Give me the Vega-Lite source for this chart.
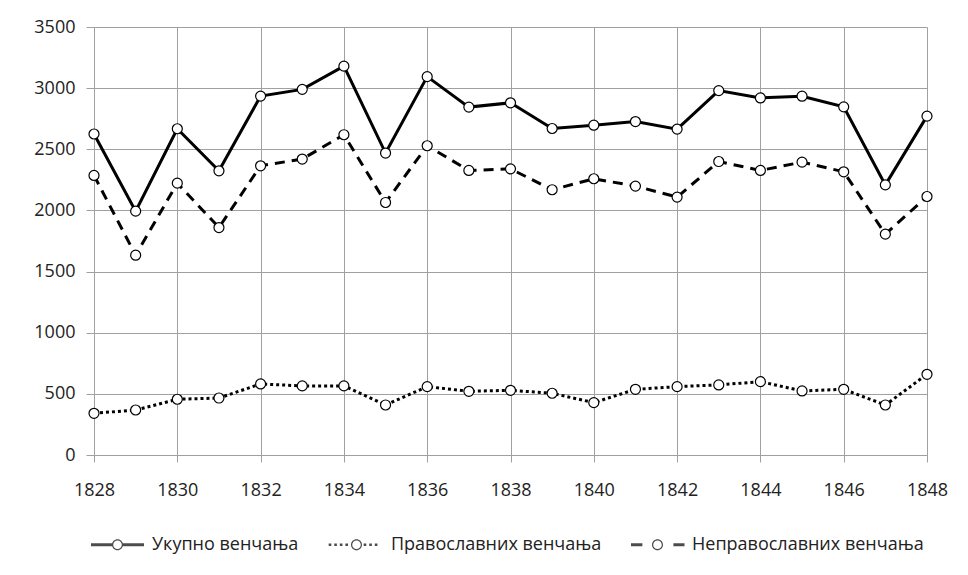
{
  "$schema": "https://vega.github.io/schema/vega-lite/v6.json",
  "autosize": "none",
  "width": 833,
  "height": 428,
  "padding": {"left": 94, "top": 27, "right": 41, "bottom": 120},
  "background": "white",
  "config": {
    "font": "Open Sans",
    "view": {"stroke": null},
    "axis": {"labelFont": "Open Sans", "labelFontSize": 18, "labelColor": "#222", "gridColor": "#a0a0a0", "gridWidth": 1, "tickColor": "#a0a0a0", "domainColor": "#a0a0a0"}
  },
  "data": {
    "values": [
      {"year": 1828, "series": "Укупно венчања", "value": 2625},
      {"year": 1829, "series": "Укупно венчања", "value": 1994},
      {"year": 1830, "series": "Укупно венчања", "value": 2668},
      {"year": 1831, "series": "Укупно венчања", "value": 2324},
      {"year": 1832, "series": "Укупно венчања", "value": 2935},
      {"year": 1833, "series": "Укупно венчања", "value": 2990},
      {"year": 1834, "series": "Укупно венчања", "value": 3180},
      {"year": 1835, "series": "Укупно венчања", "value": 2469},
      {"year": 1836, "series": "Укупно венчања", "value": 3094},
      {"year": 1837, "series": "Укупно венчања", "value": 2845},
      {"year": 1838, "series": "Укупно венчања", "value": 2880},
      {"year": 1839, "series": "Укупно венчања", "value": 2670},
      {"year": 1840, "series": "Укупно венчања", "value": 2697},
      {"year": 1841, "series": "Укупно венчања", "value": 2727},
      {"year": 1842, "series": "Укупно венчања", "value": 2665},
      {"year": 1843, "series": "Укупно венчања", "value": 2980},
      {"year": 1844, "series": "Укупно венчања", "value": 2920},
      {"year": 1845, "series": "Укупно венчања", "value": 2934},
      {"year": 1846, "series": "Укупно венчања", "value": 2847},
      {"year": 1847, "series": "Укупно венчања", "value": 2209},
      {"year": 1848, "series": "Укупно венчања", "value": 2771},
      {"year": 1828, "series": "Православних венчања", "value": 341},
      {"year": 1829, "series": "Православних венчања", "value": 368},
      {"year": 1830, "series": "Православних венчања", "value": 456},
      {"year": 1831, "series": "Православних венчања", "value": 466},
      {"year": 1832, "series": "Православних венчања", "value": 581},
      {"year": 1833, "series": "Православних венчања", "value": 565},
      {"year": 1834, "series": "Православних венчања", "value": 565},
      {"year": 1835, "series": "Православних венчања", "value": 409},
      {"year": 1836, "series": "Православних венчања", "value": 559},
      {"year": 1837, "series": "Православних венчања", "value": 521},
      {"year": 1838, "series": "Православних венчања", "value": 529},
      {"year": 1839, "series": "Православних венчања", "value": 505},
      {"year": 1840, "series": "Православних венчања", "value": 428},
      {"year": 1841, "series": "Православних венчања", "value": 537},
      {"year": 1842, "series": "Православних венчања", "value": 559},
      {"year": 1843, "series": "Православних венчања", "value": 573},
      {"year": 1844, "series": "Православних венчања", "value": 600},
      {"year": 1845, "series": "Православних венчања", "value": 524},
      {"year": 1846, "series": "Православних венчања", "value": 537},
      {"year": 1847, "series": "Православних венчања", "value": 409},
      {"year": 1848, "series": "Православних венчања", "value": 660},
      {"year": 1828, "series": "Неправославних венчања", "value": 2286},
      {"year": 1829, "series": "Неправославних венчања", "value": 1634},
      {"year": 1830, "series": "Неправославних венчања", "value": 2223},
      {"year": 1831, "series": "Неправославних венчања", "value": 1860},
      {"year": 1832, "series": "Неправославних венчања", "value": 2365},
      {"year": 1833, "series": "Неправославних венчања", "value": 2420},
      {"year": 1834, "series": "Неправославних венчања", "value": 2619},
      {"year": 1835, "series": "Неправославних венчања", "value": 2065},
      {"year": 1836, "series": "Неправославних венчања", "value": 2529},
      {"year": 1837, "series": "Неправославних венчања", "value": 2327},
      {"year": 1838, "series": "Неправославних венчања", "value": 2340},
      {"year": 1839, "series": "Неправославних венчања", "value": 2169},
      {"year": 1840, "series": "Неправославних венчања", "value": 2259},
      {"year": 1841, "series": "Неправославних венчања", "value": 2199},
      {"year": 1842, "series": "Неправославних венчања", "value": 2109},
      {"year": 1843, "series": "Неправославних венчања", "value": 2400},
      {"year": 1844, "series": "Неправославних венчања", "value": 2327},
      {"year": 1845, "series": "Неправославних венчања", "value": 2395},
      {"year": 1846, "series": "Неправославних венчања", "value": 2316},
      {"year": 1847, "series": "Неправославних венчања", "value": 1806},
      {"year": 1848, "series": "Неправославних венчања", "value": 2114}
    ]
  },
  "encoding": {
    "x": {
      "field": "year", "type": "quantitative",
      "scale": {"domain": [1828, 1848], "nice": false, "zero": false},
      "axis": {"title": null, "values": [1828, 1830, 1832, 1834, 1836, 1838, 1840, 1842, 1844, 1846, 1848], "format": "d", "tickSize": 7, "labelPadding": 19, "domain": true, "grid": true, "labelFlush": false}
    },
    "y": {
      "field": "value", "type": "quantitative",
      "scale": {"domain": [0, 3500], "nice": false},
      "axis": {"title": null, "values": [0, 500, 1000, 1500, 2000, 2500, 3000, 3500], "format": "d", "tickSize": 8, "labelPadding": 11, "domain": false, "grid": true}
    }
  },
  "layer": [
    {
      "transform": [{"filter": {"field": "series", "equal": "Укупно венчања"}}],
      "mark": {"type": "line", "color": "black", "strokeWidth": 3, "strokeCap": "butt"},
      "encoding": {}
    },
    {
      "transform": [{"filter": {"field": "series", "equal": "Православних венчања"}}],
      "mark": {"type": "line", "color": "black", "strokeWidth": 3, "strokeCap": "butt", "strokeDash": [3, 3]},
      "encoding": {}
    },
    {
      "transform": [{"filter": {"field": "series", "equal": "Неправославних венчања"}}],
      "mark": {"type": "line", "color": "black", "strokeWidth": 3, "strokeCap": "butt", "strokeDash": [10, 7]},
      "encoding": {}
    },
    {
      "mark": {"type": "point", "filled": true, "color": "black", "strokeWidth": 0, "size": 1},
      "encoding": {
        "shape": {
          "field": "series", "type": "nominal",
          "scale": {
            "domain": ["Укупно венчања", "Православних венчања", "Неправославних венчања"],
            "range": [
              "M-1,-0.057L-0.18,-0.057L-0.18,0.057L-1,0.057Z M0.18,-0.057L1,-0.057L1,0.057L0.18,0.057Z M0.2075,0A0.2075,0.2075 0 1,1 -0.2075,0A0.2075,0.2075 0 1,1 0.2075,0Z M0.162,0A0.162,0.162 0 1,0 -0.162,0A0.162,0.162 0 1,0 0.162,0Z",
              "M-1.05,-0.05h0.1v0.1h-0.1Z M-0.84,-0.05h0.1v0.1h-0.1Z M-0.63,-0.05h0.1v0.1h-0.1Z M-0.42,-0.05h0.1v0.1h-0.1Z M0.27,-0.05h0.1v0.1h-0.1Z M0.48,-0.05h0.1v0.1h-0.1Z M0.69,-0.05h0.1v0.1h-0.1Z M0.2075,0A0.2075,0.2075 0 1,1 -0.2075,0A0.2075,0.2075 0 1,1 0.2075,0Z M0.162,0A0.162,0.162 0 1,0 -0.162,0A0.162,0.162 0 1,0 0.162,0Z",
              "M-1,-0.057L-0.57,-0.057L-0.57,0.057L-1,0.057Z M0.6,-0.057L1.02,-0.057L1.02,0.057L0.6,0.057Z M0.2075,0A0.2075,0.2075 0 1,1 -0.2075,0A0.2075,0.2075 0 1,1 0.2075,0Z M0.162,0A0.162,0.162 0 1,0 -0.162,0A0.162,0.162 0 1,0 0.162,0Z"
            ]
          },
          "legend": {
            "title": null, "orient": "none", "legendX": -3, "legendY": 491, "direction": "horizontal",
            "padding": 0, "columnPadding": 29, "labelOffset": 8, "labelFontSize": 18, "labelFont": "Open Sans", "labelColor": "#222", "labelLimit": 400,
            "symbolSize": 2809, "symbolStrokeWidth": 0, "symbolFillColor": "black"
          }
        }
      }
    },
    {
      "mark": {"type": "point", "shape": "circle", "filled": true, "fill": "white", "stroke": "black", "strokeWidth": 1.2, "size": 100, "opacity": 1},
      "encoding": {"detail": {"field": "series"}}
    }
  ]
}
